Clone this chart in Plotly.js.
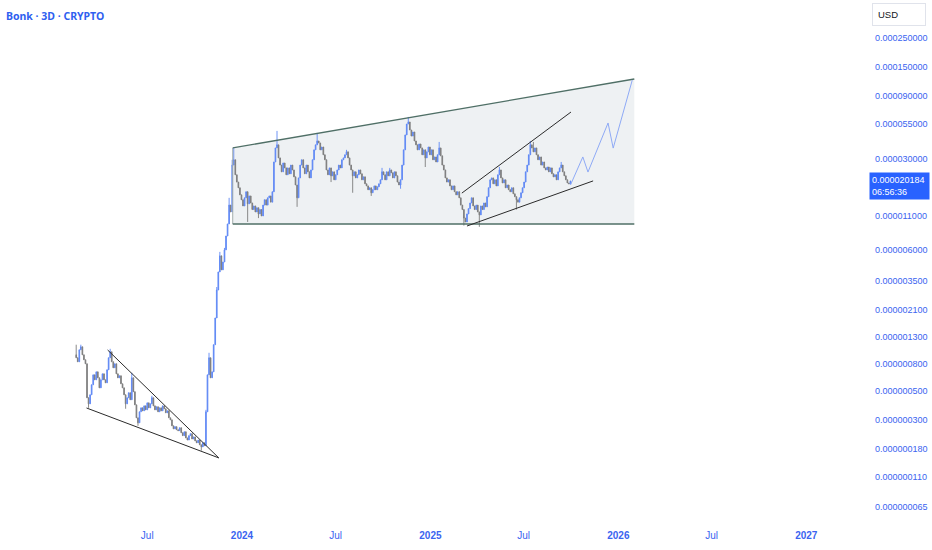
<!DOCTYPE html>
<html><head><meta charset="utf-8">
<script src="https://cdn.plot.ly/plotly-3.0.1.min.js"></script>
<style>html,body{margin:0;padding:0;background:#fff;}#chart{width:932px;height:550px;}</style>
</head><body><div id="chart"></div>
<script>
// ---- candle data (prices in micro-USD, 1e-6 USD), 3-day candles ----
const startDate = '2023-02-13';
const stepDays = 3;
const firstOpen = 0.946;
const closes = [
0.898,0.837,1.033,1.089,0.946,0.867,0.808,0.444,0.399,0.468,
0.558,0.665,0.609,0.701,0.631,0.529,0.609,0.677,0.609,0.578,
0.727,0.898,0.997,0.837,0.753,0.808,0.677,0.631,0.654,0.568,
0.529,0.468,0.399,0.444,0.485,0.429,0.631,0.494,0.392,0.312,
0.286,0.347,0.372,0.353,0.385,0.359,0.406,0.372,0.399,0.444,
0.385,0.359,0.379,0.347,0.372,0.353,0.385,0.366,0.341,0.353,
0.312,0.301,0.271,0.257,0.267,0.253,0.249,0.262,0.240,0.228,
0.244,0.219,0.211,0.228,0.236,0.215,0.223,0.208,0.201,0.211,
0.194,0.187,0.201,0.191,0.347,0.665,0.898,0.631,0.701,1.13,
1.81,2.96,4.07,5.40,4.22,4.85,6.00,7.66,9.47,13.2,
11.7,26.7,29.3,22.5,19.8,17.9,15.8,14.5,13.0,15.0,
16.7,13.5,15.5,13.7,12.2,13.0,11.7,12.6,11.3,12.2,
10.9,13.2,14.5,13.2,15.0,15.5,13.9,16.7,28.2,36.1,
38.1,30.3,26.7,23.7,27.7,25.4,22.5,25.4,22.9,26.7,
24.5,21.7,18.8,15.0,21.3,26.7,29.3,25.4,22.9,26.7,
23.7,21.3,24.5,29.3,34.9,38.1,40.8,39.4,34.9,36.7,
32.0,29.3,24.5,22.5,25.4,22.1,23.7,20.6,22.5,24.5,
26.7,25.4,29.3,30.3,32.0,33.7,30.3,26.7,24.5,22.1,
23.7,21.3,22.5,24.5,22.9,20.6,21.7,19.2,18.5,17.3,
17.9,16.4,17.3,18.5,17.3,18.2,19.2,20.6,23.7,22.5,
20.6,23.7,22.1,24.5,23.3,21.3,23.7,22.1,19.8,18.8,
20.6,26.7,34.9,45.4,55.0,57.0,49.5,44.5,47.8,40.8,
38.1,34.9,38.7,36.1,32.0,34.9,30.3,33.7,36.7,32.0,
34.9,29.3,30.8,28.2,32.0,36.1,31.4,26.7,24.5,21.3,
19.8,20.6,18.5,17.3,18.5,16.7,15.8,16.7,15.0,13.2,
12.2,10.5,9.81,11.3,12.4,13.7,15.0,13.0,12.2,13.2,
11.7,11.1,13.0,12.2,13.7,12.8,15.3,17.9,20.6,21.3,
19.2,20.6,18.5,22.5,24.5,21.3,19.5,20.6,17.9,18.8,
17.3,16.7,17.9,16.1,15.3,14.5,13.9,15.0,16.4,17.9,
19.8,23.7,26.7,32.0,38.1,36.1,33.7,36.1,32.0,29.3,
30.8,26.7,28.2,25.4,24.5,25.8,23.7,25.4,22.9,21.7,
22.5,20.6,23.7,25.4,26.7,23.7,22.1,20.6,19.5,19.2,20.184
];
// visible wick extremes (candle index -> price, micro-USD)
const wickHighIdx = [0,3,22,36,49,84,86,91,93,96,99,101,102,130,156,175,198,203,215,235,274,294,296,314];
const wickHighVal = [1.13,1.13,1.051,0.689,0.460,0.359,0.980,3.12,5.79,6.21,15.0,29.3,36.1,48.7,47.0,34.9,25.4,25.4,62.3,40.1,25.8,40.8,40.1,28.2];
const wickLowIdx = [8,32,40,81,111,118,143,165,179,191,210,226,251,261,285];
const wickLowVal = [0.372,0.366,0.271,0.175,9.81,10.5,12.8,19.8,16.4,15.5,17.6,25.8,9.2,9.0,12.2];

// ---- drawings ----
const channelDates = ['2023-12-14','2026-02-01'];
const channelTop = [36.1, 121.5];
const channelBottom = [9.46, 9.46];
const fallUpperDates = ['2023-04-15','2023-11-17'];
const fallUpperVals = [1.03, 0.154];
const fallLowerDates = ['2023-03-05','2023-11-17'];
const fallLowerVals = [0.371, 0.154];
const riseUpperDates = ['2025-03-03','2025-10-01'];
const riseUpperVals = [16.3, 67.9];
const riseLowerDates = ['2025-03-13','2025-11-13'];
const riseLowerVals = [9.13, 20.2];
const projDates = ['2025-09-30','2025-10-24','2025-11-03','2025-12-12','2025-12-22','2026-01-28'];
const projVals = [18.8, 30.8, 23.6, 56.0, 36.0, 119.0];

// ---- axis ticks ----
const yTickVals = [2.5e-4,1.5e-4,9e-5,5.5e-5,3e-5,1.1e-5,6e-6,3.5e-6,2.1e-6,1.3e-6,8e-7,5e-7,3e-7,1.8e-7,1.1e-7,6.5e-8];
const xTickVals = ['2023-07-01','2024-01-01','2024-07-01','2025-01-01','2025-07-01','2026-01-01','2026-07-01','2027-01-01'];
const xTickText = ['Jul','<b>2024</b>','Jul','<b>2025</b>','Jul','<b>2026</b>','Jul','<b>2027</b>'];
const countdown = '06:56:36';

const U = 1e-6;
const sc = a => a.map(v => v * U);
const dates = closes.map((_, i) => {
  const d = new Date(startDate + 'T00:00:00Z');
  d.setUTCDate(d.getUTCDate() + stepDays * i);
  return d.toISOString().slice(0, 10);
});
const opens = closes.map((c, i) => i === 0 ? firstOpen : closes[i - 1]);
const highs = closes.map((c, i) => Math.max(opens[i], c));
const lows = closes.map((c, i) => Math.min(opens[i], c));
wickHighIdx.forEach((k, j) => { highs[k] = Math.max(highs[k], wickHighVal[j]); });
wickLowIdx.forEach((k, j) => { lows[k] = Math.min(lows[k], wickLowVal[j]); });

const UP = '#5f88f5', DOWN = '#7d7d7d', TXT = '#3a64f0';
const FONT = '"Liberation Sans", Arial, sans-serif';
const YR = [-7.30237, -3.31154];

const lineTrace = (x, y, color, w) => ({x, y: sc(y), yaxis: 'y2', type: 'scatter', mode: 'lines', line: {color, width: w || 1}, hoverinfo: 'skip'});

const traces = [
  {x: [channelDates[0], channelDates[1], channelDates[1], channelDates[0], channelDates[0]],
   y: sc([channelTop[0], channelTop[1], channelBottom[1], channelBottom[0], channelTop[0]]),
   type: 'scatter', mode: 'lines', fill: 'toself', fillcolor: '#eef1f3', line: {width: 0}, hoverinfo: 'skip'},
  {type: 'candlestick', x: dates, open: sc(opens), high: sc(highs), low: sc(lows), close: sc(closes), yaxis: 'y2',
   increasing: {line: {color: UP, width: 0.9}, fillcolor: UP},
   decreasing: {line: {color: DOWN, width: 0.9}, fillcolor: DOWN},
   hoverinfo: 'skip'},
  lineTrace([channelDates[0], channelDates[0]], [channelTop[0], channelBottom[0]], '#a3aeab', 1),
  lineTrace(channelDates, channelTop, '#4f6f66', 1.3),
  lineTrace(channelDates, channelBottom, '#4f6f66', 1.3),
  lineTrace(fallUpperDates, fallUpperVals, '#2b2b2b', 1),
  lineTrace(fallLowerDates, fallLowerVals, '#2b2b2b', 1),
  lineTrace(riseUpperDates, riseUpperVals, '#2b2b2b', 1),
  lineTrace(riseLowerDates, riseLowerVals, '#2b2b2b', 1),
  lineTrace(projDates, projVals, '#8eaaf6', 1)
];

const last = closes[closes.length - 1];
const layout = {
  width: 932, height: 550,
  margin: {l: 0, r: 66, t: 0, b: 28},
  paper_bgcolor: '#ffffff', plot_bgcolor: '#ffffff',
  showlegend: false, hovermode: false, dragmode: false,
  boxgap: 0.35,
  font: {family: FONT, size: 9, color: TXT},
  xaxis: {type: 'date', range: ['2022-09-18', '2027-04-27'], showgrid: false, zeroline: false, showline: false,
    tickvals: xTickVals, ticktext: xTickText, ticks: '', ticklabelstandoff: 6, tickfont: {family: FONT, size: 10, color: TXT},
    rangeslider: {visible: false}, fixedrange: true},
  yaxis: {type: 'log', side: 'right', range: YR, showgrid: false, zeroline: false, showline: false,
    tickvals: yTickVals, ticktext: yTickVals.map(v => v.toFixed(9)), ticks: '', ticklabelstandoff: 8,
    tickfont: {family: FONT, size: 9, color: TXT}, fixedrange: true},
  yaxis2: {type: 'log', overlaying: 'y', side: 'right', range: YR, visible: false, showgrid: false, zeroline: false, fixedrange: true},
  annotations: [
    {xref: 'paper', yref: 'paper', x: 0, y: 1, xanchor: 'left', yanchor: 'top', xshift: 4, yshift: -7,
     text: '<b>Bonk · 3D · CRYPTO</b>', showarrow: false, font: {family: '"Noto Sans", sans-serif', size: 10.5, color: '#2f5ff0'}},
    {xref: 'paper', yref: 'paper', x: 1, y: 1, xanchor: 'left', yanchor: 'top', xshift: 6, yshift: -3,
     text: 'USD', showarrow: false, align: 'left', width: 42, borderpad: 5, bordercolor: '#e0e3eb', borderwidth: 1,
     bgcolor: '#ffffff', font: {family: FONT, size: 9.5, color: '#131722'}},
    {xref: 'paper', yref: 'y', x: 1, y: Math.log10(last * U), xanchor: 'left', yanchor: 'middle', xshift: 3, yshift: -5,
     text: (last * U).toFixed(9) + '<br>' + countdown, showarrow: false, align: 'left', width: 55, borderpad: 2,
     bgcolor: '#2962ff', font: {family: FONT, size: 9, color: '#ffffff'}}
  ]
};
Plotly.newPlot('chart', traces, layout, {displayModeBar: false, staticPlot: true});
</script>
</body></html>
